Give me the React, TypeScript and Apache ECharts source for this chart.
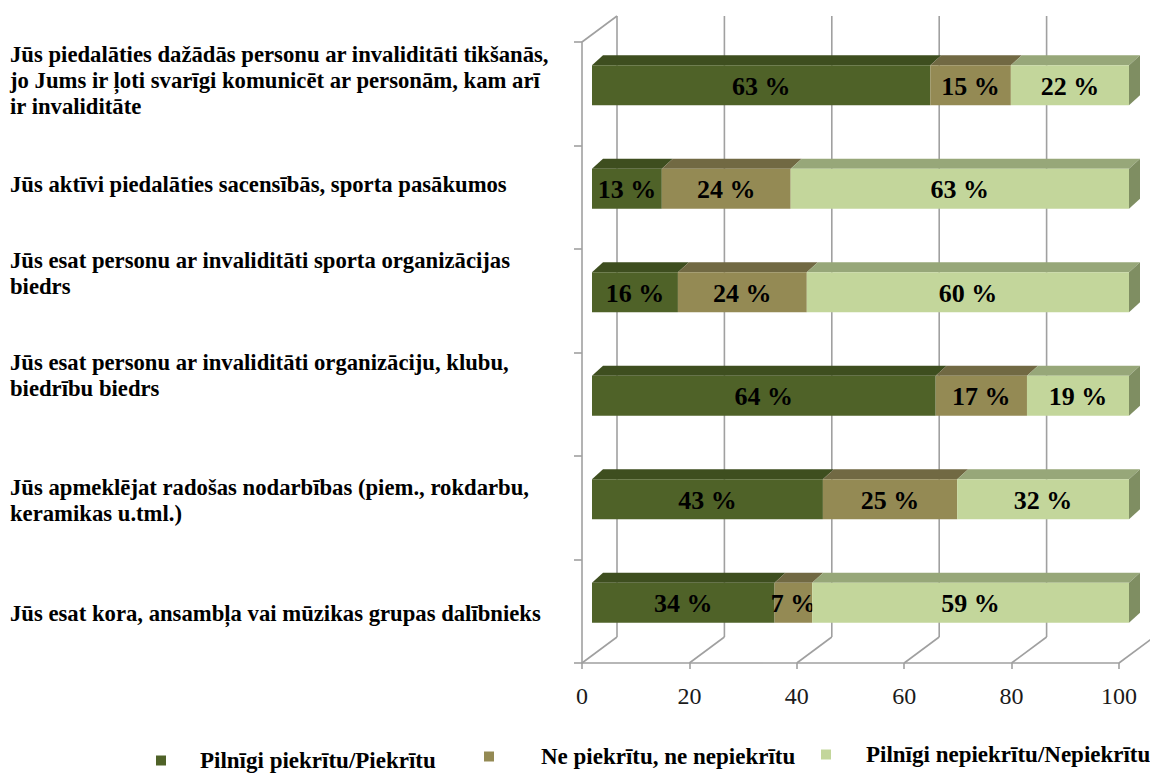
import React, { useEffect, useRef } from "react";
import * as echarts from "echarts";

const categories: string[] = [
  "Jūs piedalāties dažādās personu ar invaliditāti tikšanās,\njo Jums ir ļoti svarīgi komunicēt ar personām, kam arī\nir invaliditāte",
  "Jūs aktīvi piedalāties sacensībās, sporta pasākumos",
  "Jūs esat personu ar invaliditāti sporta organizācijas\nbiedrs",
  "Jūs esat personu ar invaliditāti organizāciju, klubu,\nbiedrību biedrs",
  "Jūs apmeklējat radošas nodarbības (piem., rokdarbu,\nkeramikas u.tml.)",
  "Jūs esat kora, ansambļa vai mūzikas grupas dalībnieks",
];

const seriesNames: string[] = [
  "Pilnīgi piekrītu/Piekrītu",
  "Ne piekrītu, ne nepiekrītu",
  "Pilnīgi nepiekrītu/Nepiekrītu",
];

const agree: number[] = [63, 13, 16, 64, 43, 34];
const neutral: number[] = [15, 24, 24, 17, 25, 7];
const disagree: number[] = [22, 63, 60, 19, 32, 59];

const xTicks: number[] = [0, 20, 40, 60, 80, 100];

const FRONT = ["#4F6228", "#948A54", "#C3D69B"];
const TOP = ["#3E4E1F", "#716943", "#97A779"];
const SIDE = ["#344219", "#5E5838", "#7F8E62"];

// vertical shifts (px, positive = up) for category labels
const labelShift = [13, 13, 27, 29, 7, -2];

const SERIF = '"Liberation Serif", "Times New Roman", serif';

export default function App() {
  const ref = useRef<HTMLDivElement>(null);
  useEffect(() => {
    if (!ref.current) return;
    const chart = echarts.init(ref.current, undefined, { renderer: "svg" });
    const all = [agree, neutral, disagree];

    const barSeries = all.map((vals, si) => {
      const data = vals.map((v, ci) => {
        let start = 0;
        for (let k = 0; k < si; k++) start += all[k][ci];
        return [ci, start, start + v, v];
      });
      return {
        type: "custom",
        name: seriesNames[si],
        coordinateSystem: "cartesian2d",
        z: 3,
        itemStyle: { color: FRONT[si] },
        encode: { x: [1, 2], y: 0 },
        data,
        renderItem: (params: any, api: any) => {
          const ci = api.value(0);
          const s = api.value(1);
          const e = api.value(2);
          const v = api.value(3);
          const p0 = api.coord([s, ci]);
          const p1 = api.coord([e, ci]);
          const ox = 10, oy = -8.5, dx = 11, dy = -10, bh = 40;
          const x0 = p0[0] + ox;
          const x1 = p1[0] + ox;
          const yc = p0[1] + oy;
          const top = yc - bh / 2;
          const bot = yc + bh / 2;
          const children: any[] = [
            {
              type: "polygon",
              shape: { points: [[x0, top], [x0 + dx, top + dy], [x1 + dx, top + dy], [x1, top]] },
              style: { fill: TOP[si] },
            },
            {
              type: "rect",
              shape: { x: x0, y: top, width: x1 - x0, height: bh },
              style: { fill: FRONT[si] },
            },
          ];
          if (si === all.length - 1) {
            children.push({
              type: "polygon",
              shape: { points: [[x1, top], [x1 + dx, top + dy], [x1 + dx, bot + dy], [x1, bot]] },
              style: { fill: SIDE[si] },
            });
          }
          children.push({
            type: "text",
            style: {
              text: v + " %",
              x: (x0 + x1) / 2,
              y: yc + 1,
              align: "center",
              verticalAlign: "middle",
              fontFamily: SERIF,
              fontSize: 26,
              fontWeight: "bold",
              fill: "#000",
            },
          });
          return { type: "group", children };
        },
      };
    });

    const wallSeries = {
      type: "custom",
      name: "walls",
      coordinateSystem: "cartesian2d",
      z: 1,
      silent: true,
      encode: { x: 0 },
      data: xTicks.map((t) => [t]),
      renderItem: (params: any, api: any) => {
        const cs = params.coordSys;
        const t = api.value(0);
        const x = api.coord([t, 0])[0];
        const bottom = cs.y + cs.height;
        const topY = cs.y;
        const dx = 35, dy = -26;
        const ls = { stroke: "#A0A0A0", lineWidth: 1.6, fill: null };
        const children: any[] = [
          { type: "line", shape: { x1: x, y1: bottom, x2: x + dx, y2: bottom + dy }, style: ls },
          { type: "line", shape: { x1: x + dx, y1: topY + dy, x2: x + dx, y2: bottom + dy }, style: ls },
        ];
        if (t === 0) {
          children.push({ type: "line", shape: { x1: x, y1: topY, x2: x + dx, y2: topY + dy }, style: ls });
        }
        return { type: "group", children };
      },
    };

    const rich: any = {
      t: { fontFamily: SERIF, fontSize: 22.7, fontWeight: "bold", color: "#000", lineHeight: 26 },
    };
    labelShift.forEach((sh, i) => {
      rich["s" + i] = { lineHeight: Math.max(1, Math.abs(sh) * 2), fontSize: 1 };
    });

    const axisGray = { color: "#A0A0A0", width: 1.6 };

    chart.setOption({
      animation: false,
      backgroundColor: "#fff",
      grid: { left: 582, top: 42, width: 537, height: 621 },
      xAxis: {
        type: "value",
        min: 0,
        max: 100,
        interval: 20,
        axisLine: { show: true, lineStyle: axisGray },
        axisTick: { show: true, length: 6, lineStyle: axisGray },
        splitLine: { show: false },
        axisLabel: { margin: 21, fontFamily: SERIF, fontSize: 24, color: "#1a1a1a" },
      },
      yAxis: {
        type: "category",
        inverse: true,
        data: categories,
        axisLine: { show: true, lineStyle: axisGray },
        axisTick: { show: true, length: 8, lineStyle: axisGray },
        splitLine: { show: false },
        axisLabel: {
          align: "left",
          margin: 572,
          formatter: (value: string, index: number) => {
            const body = value.split("\n").map((l) => "{t|" + l + "}").join("\n");
            const sh = labelShift[index];
            if (Math.abs(sh) < 1) return body;
            const sp = "{s" + index + "| }";
            return sh > 0 ? body + "\n" + sp : sp + "\n" + body;
          },
          rich,
        },
      },
      legend: [
        { left: 151, top: 744, textPad: 29 },
        { left: 479, top: 740, textPad: 42 },
        { left: 816, top: 738, textPad: 30 },
      ].map((l, i) => ({
        left: l.left,
        top: l.top,
        data: [seriesNames[i]],
        icon: "rect",
        itemWidth: 10,
        itemHeight: 10,
        selectedMode: false,
        textStyle: {
          fontFamily: SERIF,
          fontSize: 23,
          fontWeight: "bold",
          color: "#000",
          padding: [0, 0, 0, l.textPad],
        },
      })),
      series: [wallSeries, ...barSeries],
    });
    return () => chart.dispose();
  }, []);
  return (
    <div
      ref={ref}
      style={{ position: "absolute", left: 0, top: 0, width: 1150, height: 774, background: "#fff" }}
    />
  );
}
